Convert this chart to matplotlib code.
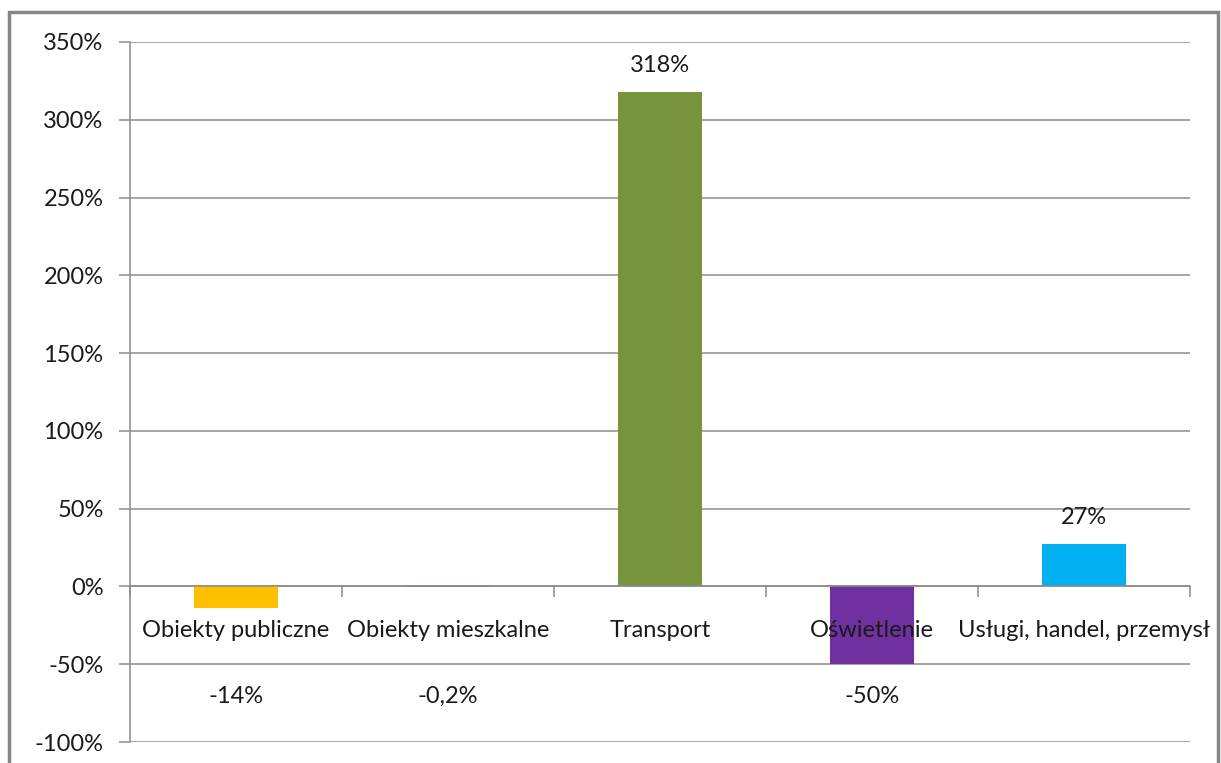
import numpy as np
import matplotlib.pyplot as plt
from matplotlib.patches import Rectangle

categories = ['Obiekty publiczne', 'Obiekty mieszkalne', 'Transport', 'Oświetlenie', 'Usługi, handel, przemysł']
values = [-14, -0.2, 318, -50, 27]
value_labels = ['-14%', '-0,2%', '318%', '-50%', '27%']
colors = ['#FFC000', '#C0504D', '#77933C', '#7030A0', '#00B0F0']
yticks = [-100, -50, 0, 50, 100, 150, 200, 250, 300, 350]

plt.rcParams['font.family'] = ['Lato', 'DejaVu Sans']
grid_c = '#8c8c8c'
txt_c = '#1a1a1a'
fs = 17

fig = plt.figure(figsize=(12.21, 7.63), dpi=100)
ax = fig.add_axes([130/1221, 1-742/763, 1060/1221, 700/763])

x = np.arange(len(categories))
ax.bar(x, values, width=0.4, color=colors, zorder=3)

ax.set_xlim(-0.5, len(categories)-0.5)
ax.set_ylim(-100, 350)
ax.set_yticks(yticks)
ax.set_yticklabels([f'{v}%' for v in yticks], fontsize=fs, color=txt_c)
ax.yaxis.grid(True, color=grid_c, linewidth=1.1, zorder=0)
ax.tick_params(axis='y', length=8, width=1.1, color=grid_c, pad=11)

for s in ['top', 'right']:
    ax.spines[s].set_visible(False)
ax.spines['left'].set_color(grid_c)
ax.spines['left'].set_linewidth(1.1)
ax.spines['bottom'].set_position(('data', 0))
ax.spines['bottom'].set_color(grid_c)
ax.spines['bottom'].set_linewidth(1.1)
ax.spines['bottom'].set_zorder(4)

# tick marks between categories, names written under the zero line
ax.set_xticks(np.arange(len(categories)+1)-0.5)
ax.set_xticklabels([])
ax.tick_params(axis='x', length=8, width=1.1, color=grid_c, direction='out')
for xi, name in zip(x, categories):
    ax.text(xi, -28.5, name, ha='center', va='center', fontsize=fs, color=txt_c, zorder=5)

for xi, v, t in zip(x, values, value_labels):
    ty = v + 17 if v > 0 else -70.5
    ax.text(xi, ty, t, ha='center', va='center', fontsize=fs, color=txt_c, zorder=5)

fig.patches.append(Rectangle((9, -10), 1209, 761, transform=None, fill=False,
                             edgecolor='#868686', linewidth=2.5))

fig.savefig('out.png', dpi=100)
